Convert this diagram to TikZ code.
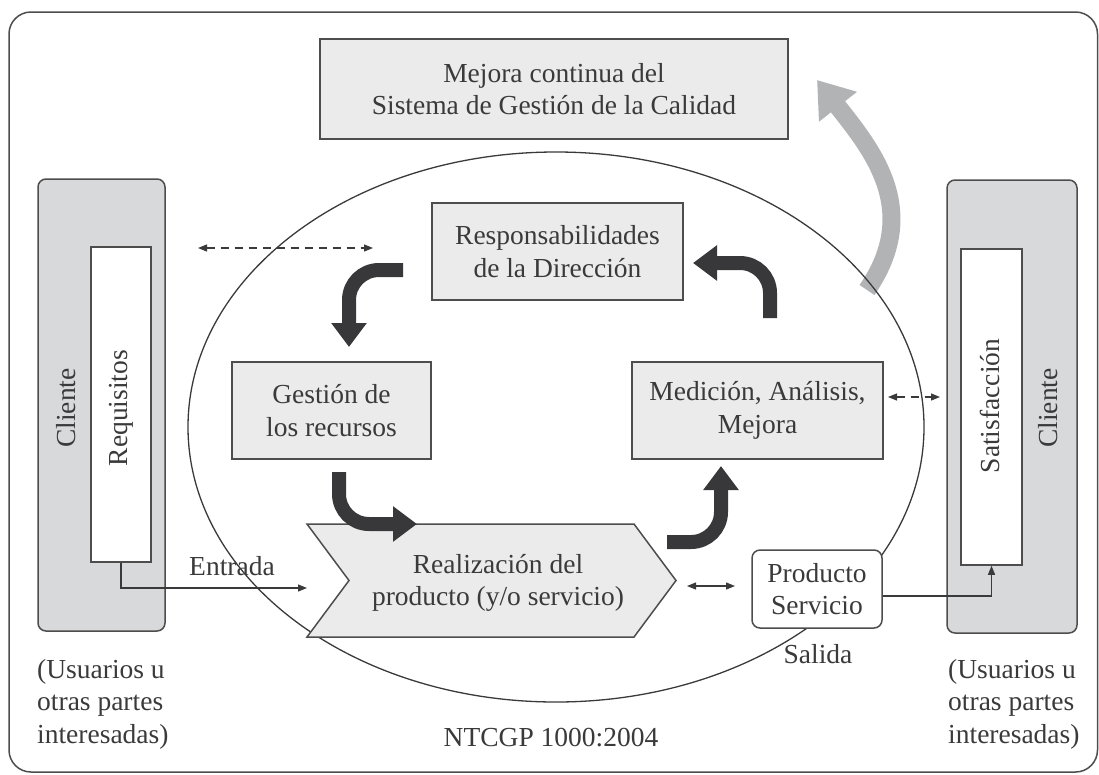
\documentclass[tikz,border=0pt]{standalone}
\usepackage{fontspec}
\setmainfont{Liberation Serif}
\usetikzlibrary{arrows.meta}
\definecolor{ink}{HTML}{3A3A3A}
\definecolor{edge}{HTML}{4D4D4D}
\definecolor{panel}{HTML}{EBEBEB}
\definecolor{clientgray}{HTML}{D8D9DB}
\definecolor{flow}{HTML}{38383A}
\definecolor{improve}{HTML}{B2B3B5}
\begin{document}
\begin{tikzpicture}[x=1pt,y=-1pt,
  txt/.style={font=\fontsize{27.5}{32.5}\selectfont, text=ink, align=center, inner sep=0pt},
  panelbox/.style={txt, draw=edge, line width=1.5pt, fill=panel, rectangle},
  clientbox/.style={draw=edge, line width=1.5pt, fill=clientgray, rounded corners=8pt, inner sep=0pt},
  listbox/.style={draw=edge, line width=1.5pt, fill=white, inner sep=0pt},
  wire/.style={draw=ink, line width=1.2pt},
  onetip/.style={-{Triangle[length=9pt,width=7pt]}},
  twotips/.style={{Triangle[length=9pt,width=7pt]}-{Triangle[length=9pt,width=7pt]}},
  flowarrow/.style={draw=flow, line width=14pt, rounded corners=30pt, -{Triangle[length=24pt,width=34pt]}},
]
\useasboundingbox (0,0) rectangle (1099,774);

% outer frame
\draw[draw=edge, line width=1.5pt, rounded corners=22pt] (9,12) rectangle (1097.5,772);

% top box
\node[panelbox, minimum width=468pt, minimum height=100pt] (mejora) at (554,89)
  {Mejora continua del\\Sistema de Gestión de la Calidad};

% customer columns
\node[clientbox, minimum width=127pt, minimum height=452pt] (clL) at (101.5,405) {};
\node[listbox, minimum width=60pt, minimum height=315pt] (reqL) at (121,404.5) {};
\node[txt, rotate=90] (clLtxt) at (66,408) {Cliente};
\node[txt, rotate=90] (reqtxt) at (121,408) {Requisitos};

\node[clientbox, minimum width=130pt, minimum height=453pt] (clR) at (1012,406.5) {};
\node[listbox, minimum width=61pt, minimum height=316pt] (satR) at (991.5,407) {};
\node[txt, rotate=90] (sattxt) at (990,406) {Satisfacción};
\node[txt, rotate=90] (clRtxt) at (1048,408) {Cliente};

% improvement arrow
\coordinate (gs) at (867,290);
\coordinate (ge) at (817,80);
\draw[draw=improve, line width=18pt, -{Triangle[length=34pt,width=46pt]}]
  (gs) .. controls (922,210) and (872,150) .. (ge);

% system ellipse
\draw[draw=ink, line width=1.3pt] (556,427) ellipse [x radius=368pt, y radius=275pt];

% process boxes
\node[panelbox, minimum width=251pt, minimum height=97pt] (resp) at (557.5,251.5)
  {Responsabilidades\\de la Dirección};
\node[panelbox, minimum width=199pt, minimum height=97pt] (gest) at (331.5,410.5)
  {Gestión de\\los recursos};
\node[panelbox, minimum width=251pt, minimum height=97pt] (med) at (757.5,410.5)
  {Medición, Análisis,\\Mejora};

% product realisation chevron
\draw[draw=edge, line width=1.5pt, fill=panel]
  (307,524) -- (634,524) -- (676,580.5) -- (634,637) -- (307,637) -- (349,580.5) -- cycle;
\node[txt] (real) at (498,583) {Realización del\\producto (y/o servicio)};

\node[txt, draw=edge, line width=1.5pt, fill=white, rounded corners=8pt,
      minimum width=130pt, minimum height=78pt] (prod) at (817,589) {Producto\\Servicio};

% cycle arrows
\coordinate (a1s) at (403,270);  \coordinate (a1e) at (349,347);
\coordinate (a2s) at (770,318);  \coordinate (a2e) at (693,263);
\coordinate (a3s) at (339,472);  \coordinate (a3e) at (417,524);
\coordinate (a4s) at (667,542);  \coordinate (a4e) at (721,466);
\draw[flowarrow] (a1s) -| (a1e);
\draw[flowarrow] (a2s) |- (a2e);
\draw[flowarrow] (a3s) |- (a3e);
\draw[flowarrow] (a4s) -| (a4e);

% input and output
\coordinate (entIn) at (307,588);
\draw[wire, onetip] (reqL.south) |- (entIn);
\node[txt] (entrada) at (232,566) {Entrada};

\coordinate (dbA) at (687,586);  \coordinate (dbB) at (735,586);
\draw[wire, twotips] (dbA) -- (dbB);

\draw[wire, onetip] ([yshift=-7pt]prod.east) -| (satR.south);
\node[txt] (salida) at (818,654) {Salida};

% dashed links
\coordinate (dl1) at (198,248);  \coordinate (dl2) at (373,248);
\draw[wire, twotips, dash pattern=on 8pt off 6pt] (dl1) -- (dl2);
\coordinate (dr1) at (888,397);  \coordinate (dr2) at (940,397);
\draw[wire, twotips, dash pattern=on 8pt off 6pt] (dr1) -- (dr2);

% footnotes
\node[txt, align=left, anchor=west] (usrL) at (37,704) {(Usuarios u\\otras partes\\interesadas)};
\node[txt, align=left, anchor=west] (usrR) at (948,704) {(Usuarios u\\otras partes\\interesadas)};
\node[txt] (norma) at (551,738) {NTCGP 1000:2004};
\end{tikzpicture}
\end{document}
